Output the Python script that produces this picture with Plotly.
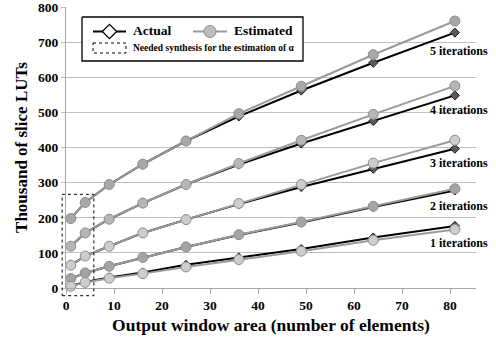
import plotly.graph_objects as go

# ---------------- data ----------------
window_area = [1, 4, 9, 16, 25, 36, 49, 64, 81]
iterations = ["5 iterations", "4 iterations", "3 iterations", "2 iterations", "1 iterations"]

actual_5 = [198, 244, 295, 353, 419, 489, 563, 642, 728]
estim_5 = [198, 244, 295, 353, 419, 497, 575, 665, 761]
actual_4 = [119, 157, 196, 242, 295, 352, 412, 476, 549]
estim_4 = [119, 157, 196, 242, 295, 355, 421, 495, 576]
actual_3 = [65, 91, 119, 157, 195, 239, 288, 340, 397]
estim_3 = [65, 91, 119, 157, 195, 241, 295, 356, 421]
actual_2 = [27, 43, 62, 87, 117, 151, 187, 231, 278]
estim_2 = [27, 43, 62, 87, 117, 152, 188, 233, 283]
actual_1 = [6, 17, 30, 44, 66, 87, 111, 144, 177]
estim_1 = [5, 16, 28, 41, 60, 81, 105, 136, 167]

y_ticks = [0, 100, 200, 300, 400, 500, 600, 700, 800]
x_ticks = [0, 10, 20, 30, 40, 50, 60, 70, 80]

label_y = [677, 506, 357, 233, 128]
label_x = 81.8

# region needing synthesis (data units)
synth_x = [-0.8, 5.8]
synth_y = [-22, 267]

x_range = [0, 85.4]
y_range = [0, 801]

actuals = [actual_5, actual_4, actual_3, actual_2, actual_1]
estims = [estim_5, estim_4, estim_3, estim_2, estim_1]
est_fill = ["#a8a8a8", "#b6b6b6", "#cdcdcd", "#a4a4a4", "#cdcdcd"]

FONT = "Liberation Serif"

fig = go.Figure()

for a, e, fc in zip(actuals, estims, est_fill):
    fig.add_trace(go.Scatter(
        x=window_area, y=a, mode="lines+markers", showlegend=False,
        line=dict(color="#000000", width=2),
        marker=dict(symbol="diamond", size=7, color="#5a5a5a",
                    line=dict(color="#1a1a1a", width=1)),
        cliponaxis=False))
    fig.add_trace(go.Scatter(
        x=window_area, y=e, mode="lines+markers", showlegend=False,
        line=dict(color="#9a9a9a", width=2),
        marker=dict(symbol="circle", size=10, color=fc,
                    line=dict(color="#8c8c8c", width=1)),
        cliponaxis=False))

# iteration labels
for txt, ly in zip(iterations, label_y):
    fig.add_annotation(x=label_x, y=ly, xref="x", yref="y", text=txt,
                       showarrow=False, xanchor="center", yanchor="middle",
                       font=dict(family=FONT, size=12, color="#000", weight="bold"))

# dotted synthesis rectangle (domain refs so it is not clipped)
def xd(v):
    return (v - x_range[0]) / (x_range[1] - x_range[0])

def yd(v):
    return (v - y_range[0]) / (y_range[1] - y_range[0])

fig.add_shape(type="rect", xref="x domain", yref="y domain",
              x0=xd(synth_x[0]), x1=xd(synth_x[1]), y0=yd(synth_y[0]), y1=yd(synth_y[1]),
              line=dict(color="#000", width=1, dash="dot"), fillcolor="rgba(0,0,0,0)")

# ---------------- custom legend (in pixel space of the figure) ----------------
W, H = 496, 343
ML, MR, MT, MB = 66, 20, 7, 55
PW, PH = W - ML - MR, H - MT - MB

def px(xp):
    return (xp - ML) / PW

def py(yp):
    return (H - MB - yp) / PH

def ltrace(**kw):
    kw.setdefault("mode", "lines")
    fig.add_trace(go.Scatter(xaxis="x2", yaxis="y2", showlegend=False,
                             hoverinfo="skip", cliponaxis=False, **kw))

# legend box
ltrace(x=[82, 303, 303, 82, 82], y=[17, 17, 61, 61, 17], fill="toself",
       fillcolor="white", line=dict(color="#000", width=1.3))
# Actual sample
ltrace(x=[93, 126], y=[31.5, 31.5], line=dict(color="#000", width=2))
ltrace(x=[109.5], y=[31.5], mode="markers",
       marker=dict(symbol="diamond", size=11, color="white", line=dict(color="#000", width=1.3)))
# Estimated sample
ltrace(x=[193, 227], y=[31.5, 31.5], line=dict(color="#9a9a9a", width=2))
ltrace(x=[210], y=[31.5], mode="markers",
       marker=dict(symbol="circle", size=12, color="#bdbdbd", line=dict(color="#8c8c8c", width=1)))
# dotted sample
ltrace(x=[93, 126, 126, 93, 93], y=[43, 43, 53, 53, 43], line=dict(color="#000", width=1, dash="dot"))

fig.add_annotation(xref="paper", yref="paper", x=px(131), y=py(31), text="Actual",
                   showarrow=False, xanchor="left", yanchor="middle",
                   font=dict(family=FONT, size=13.5, color="#000", weight="bold"))
fig.add_annotation(xref="paper", yref="paper", x=px(232), y=py(31), text="Estimated",
                   showarrow=False, xanchor="left", yanchor="middle",
                   font=dict(family=FONT, size=13.5, color="#000", weight="bold"))
fig.add_annotation(xref="paper", yref="paper", x=px(131), y=py(48),
                   text="Needed synthesis for the estimation of α",
                   showarrow=False, xanchor="left", yanchor="middle",
                   font=dict(family=FONT, size=9.5, color="#000", weight="bold"))

fig.update_layout(
    width=W, height=H,
    margin=dict(l=ML, r=MR, t=MT, b=MB, autoexpand=False),
    paper_bgcolor="white", plot_bgcolor="white",
    showlegend=False,
    xaxis=dict(range=x_range, tickvals=x_ticks,
               showgrid=False, zeroline=False, automargin=False,
               showline=True, linecolor="#a6a6a6", linewidth=1,
               ticks="outside", ticklen=5, tickcolor="#a6a6a6",
               tickfont=dict(family=FONT, size=13.5, color="#000", weight="bold"),
               title=dict(text="Output window area (number of elements)",
                          font=dict(family=FONT, size=17.5, color="#000", weight="bold"),
                          standoff=6)),
    yaxis=dict(range=y_range, tickvals=y_ticks,
               showgrid=True, gridcolor="#bfbfbf", gridwidth=1, zeroline=False,
               automargin=False, ticklabeloverflow="allow",
               showline=True, linecolor="#a6a6a6", linewidth=1,
               ticks="outside", ticklen=4, tickcolor="#bfbfbf",
               tickfont=dict(family=FONT, size=13.5, color="#000", weight="bold"),
               title=dict(text="Thousand of slice LUTs",
                          font=dict(family=FONT, size=17, color="#000", weight="bold"),
                          standoff=6)),
    xaxis2=dict(range=[ML, W - MR], overlaying="x", visible=False, fixedrange=True),
    yaxis2=dict(range=[H - MB, MT], overlaying="y", visible=False, fixedrange=True),
)

fig.write_html("out.html", config={"displayModeBar": False},
               post_script="document.body.style.margin='0';")
